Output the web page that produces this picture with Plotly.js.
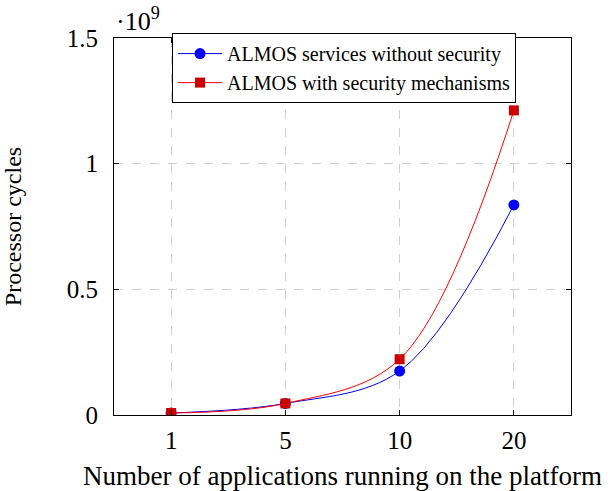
<!DOCTYPE html>
<html>
<head>
<meta charset="utf-8">
<script src="https://cdn.plot.ly/plotly-3.0.1.min.js"></script>
<style>html,body{margin:0;padding:0;background:#fff;}#chart{width:608px;height:491px;}</style>
</head>
<body>
<div id="chart"></div>
<script>
const categories = ['1', '5', '10', '20'];
const withoutSecurity = [0.008e9, 0.046e9, 0.175e9, 0.836e9];
const withSecurity = [0.008e9, 0.046e9, 0.222e9, 1.212e9];
const yTickVals = [0, 0.5e9, 1e9, 1.5e9];
const yTickText = ['0', '0.5', '1', '1.5'];
const seriesNames = ['ALMOS services without security', 'ALMOS with security mechanisms'];

const font = 'Liberation Serif, Times New Roman, serif';

const traces = [
  {
    x: categories, y: withoutSecurity, name: seriesNames[0],
    type: 'scatter', mode: 'lines+markers',
    line: {color: '#0000ff', width: 1, shape: 'spline', smoothing: 1},
    marker: {symbol: 'circle', size: 11, color: '#0000ff'}
  },
  {
    x: categories, y: withSecurity, name: seriesNames[1],
    type: 'scatter', mode: 'lines+markers',
    line: {color: '#ff0000', width: 1, shape: 'spline', smoothing: 1},
    marker: {symbol: 'square', size: 10, color: '#cc0000'}
  }
];

const layout = {
  width: 608, height: 491,
  margin: {l: 114, r: 37, t: 38, b: 76},
  paper_bgcolor: '#fff', plot_bgcolor: '#fff',
  font: {family: font, color: '#000', size: 24},
  showlegend: true,
  legend: {
    x: 0.127, y: 1.013, xanchor: 'left', yanchor: 'top',
    bgcolor: '#fff', bordercolor: '#000', borderwidth: 1,
    font: {family: font, size: 20, color: '#000'},
    itemwidth: 44,
    tracegroupgap: 0
  },
  xaxis: {
    type: 'category', range: [-0.5, 3.5],
    showline: true, linecolor: '#000', linewidth: 1, mirror: 'ticks',
    ticks: 'inside', ticklen: 5, tickcolor: '#000',
    showgrid: true, gridcolor: '#d0d0d0', griddash: 'dash', gridwidth: 1,
    tickfont: {family: font, size: 25},
    ticklabelstandoff: 3,
    zeroline: false,
    title: {text: 'Number of applications running on the platform', font: {family: font, size: 27}, standoff: 15}
  },
  yaxis: {
    range: [0, 1.5e9],
    tickvals: yTickVals, ticktext: yTickText,
    showline: true, linecolor: '#000', linewidth: 1, mirror: 'ticks',
    ticks: 'inside', ticklen: 5, tickcolor: '#000',
    showgrid: true, gridcolor: '#d0d0d0', griddash: 'dash', gridwidth: 1,
    tickfont: {family: font, size: 25},
    ticklabelstandoff: 10,
    zeroline: false,
    title: {text: 'Processor cycles', font: {family: font, size: 24}, standoff: 38}
  },
  annotations: [{
    xref: 'paper', yref: 'paper', x: 0, y: 1, xanchor: 'left', yanchor: 'bottom',
    text: '\u00b710<sup>9</sup>', showarrow: false, yshift: 0,
    font: {family: font, size: 26, color: '#000'}
  }]
};

Plotly.newPlot('chart', traces, layout, {displayModeBar: false, staticPlot: true});
</script>
</body>
</html>
